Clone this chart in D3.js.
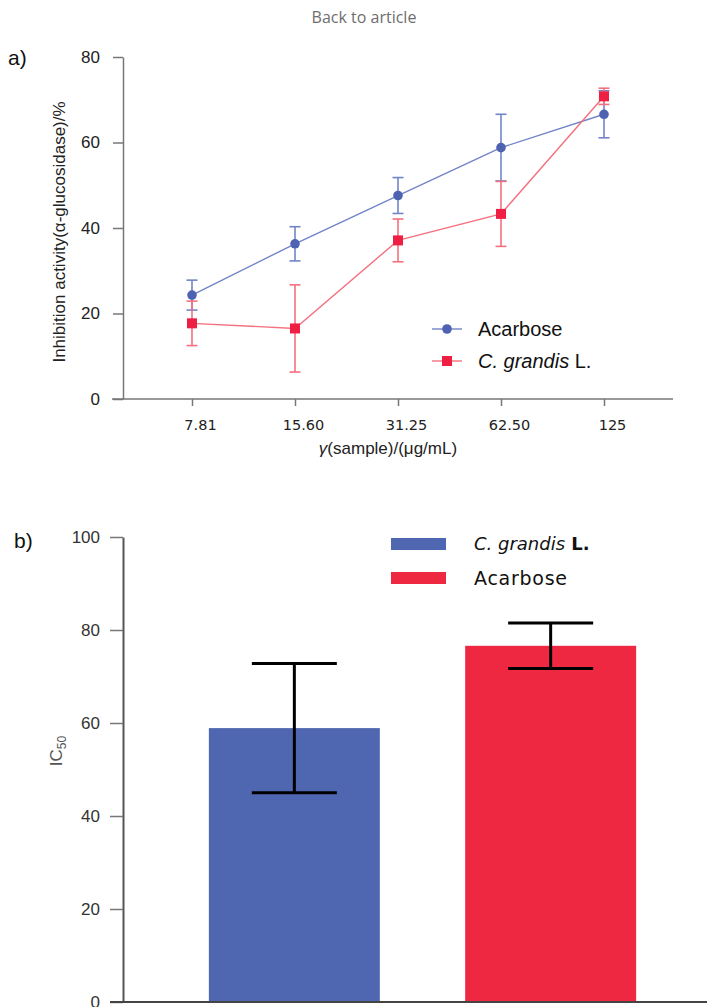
<!DOCTYPE html>
<html>
<head>
<meta charset="utf-8">
<script src="https://cdn.jsdelivr.net/npm/d3@7"></script>
<style>
  body { margin: 0; background: #fff; }
  svg { display: block; }
</style>
</head>
<body>
<div id="chart"></div>
<script>
// data for panel a (line chart)
var concentrations = ["7.81", "15.60", "31.25", "62.50", "125"];
var acarboseMean = [24.3, 36.3, 47.6, 58.8, 66.6];
var acarboseErr = [3.5, 4.0, 4.2, 7.8, 5.5];
var grandisMean = [17.7, 16.5, 37.1, 43.3, 70.8];
var grandisErr = [5.2, 10.2, 5.0, 7.6, 1.9];
var yTicksA = [0, 20, 40, 60, 80];

// data for panel b (bar chart)
var samples = ["C. grandis L.", "Acarbose"];
var ic50Mean = [58.9, 76.6];
var ic50Err = [13.9, 4.9];
var yTicksB = [0, 20, 40, 60, 80, 100];

var blue = "#4d63b2", blueLine = "#7184c8";
var red = "#ee1f43", redLine = "#f4707e";
var barBlue = "#4f67b0", barRed = "#ee2841";

var svg = d3.select("#chart")
  .append("svg")
  .attr("width", 707)
  .attr("height", 1007);

// header link text
svg.append("text")
  .attr("x", 364).attr("y", 23)
  .attr("text-anchor", "middle")
  .attr("font-family", "Open Sans")
  .attr("font-size", 16)
  .attr("fill", "#6e6e6e")
  .text("Back to article");

// ---------- panel a ----------
var gA = svg.append("g");

var xA = d3.scalePoint().domain(concentrations).range([192, 604]);
var yA = d3.scaleLinear().domain([0, 80]).range([399, 57]);

gA.append("text")
  .attr("x", 8).attr("y", 65)
  .attr("font-family", "Liberation Sans")
  .attr("font-size", 21)
  .attr("fill", "#111")
  .text("a)");

// y axis
var yAxisA = gA.append("g")
  .attr("transform", "translate(123,0)")
  .call(d3.axisLeft(yA).tickValues(yTicksA).tickSize(10).tickSizeOuter(0).tickPadding(13));
yAxisA.select(".domain").attr("stroke", "#777").attr("stroke-width", 1.5);
yAxisA.selectAll(".tick line").attr("stroke", "#777").attr("stroke-width", 1.5);
yAxisA.selectAll(".tick text")
  .attr("font-family", "Liberation Sans")
  .attr("font-size", 17)
  .attr("fill", "#222");

// x axis
gA.append("line")
  .attr("x1", 112).attr("x2", 673)
  .attr("y1", yA(0)).attr("y2", yA(0))
  .attr("stroke", "#777").attr("stroke-width", 1.5);
var xAxisA = gA.append("g")
  .attr("transform", "translate(0," + yA(0) + ")")
  .call(d3.axisBottom(xA).tickSize(7).tickSizeOuter(0).tickPadding(14));
xAxisA.select(".domain").remove();
xAxisA.selectAll(".tick line").attr("stroke", "#777").attr("stroke-width", 1.5);
xAxisA.selectAll(".tick text")
  .attr("dx", 8)
  .attr("font-family", "DejaVu Sans")
  .attr("font-size", 14.5)
  .attr("fill", "#222");

// axis titles
var xTitle = gA.append("text")
  .attr("x", 388).attr("y", 454)
  .attr("text-anchor", "middle")
  .attr("font-family", "Liberation Sans")
  .attr("font-size", 17)
  .attr("fill", "#222");
xTitle.append("tspan").attr("font-style", "italic").text("γ");
xTitle.append("tspan").text("(sample)/(μg/mL)");

gA.append("text")
  .attr("transform", "translate(65,232) rotate(-90)")
  .attr("text-anchor", "middle")
  .attr("font-family", "Liberation Sans")
  .attr("font-size", 17)
  .attr("fill", "#222")
  .text("Inhibition activity(α-glucosidase)/%");

// series
var seriesA = [
  { name: "Acarbose", mean: acarboseMean, err: acarboseErr, color: blue, line: blueLine, shape: "circle" },
  { name: "C. grandis", mean: grandisMean, err: grandisErr, color: red, line: redLine, shape: "square" }
];

var lineGen = d3.line()
  .x(function(d) { return xA(d.c); })
  .y(function(d) { return yA(d.v); });

seriesA.forEach(function(s) {
  var pts = concentrations.map(function(c, i) {
    return { c: c, v: s.mean[i], e: s.err[i] };
  });
  var g = gA.append("g");

  // error bars
  var eb = g.selectAll(".err").data(pts).enter().append("g").attr("class", "err")
    .attr("stroke", s.line).attr("stroke-width", 1.6);
  eb.append("line")
    .attr("x1", function(d) { return xA(d.c); })
    .attr("x2", function(d) { return xA(d.c); })
    .attr("y1", function(d) { return yA(d.v + d.e); })
    .attr("y2", function(d) { return yA(d.v - d.e); });
  eb.append("line")
    .attr("x1", function(d) { return xA(d.c) - 5.5; })
    .attr("x2", function(d) { return xA(d.c) + 5.5; })
    .attr("y1", function(d) { return yA(d.v + d.e); })
    .attr("y2", function(d) { return yA(d.v + d.e); });
  eb.append("line")
    .attr("x1", function(d) { return xA(d.c) - 5.5; })
    .attr("x2", function(d) { return xA(d.c) + 5.5; })
    .attr("y1", function(d) { return yA(d.v - d.e); })
    .attr("y2", function(d) { return yA(d.v - d.e); });

  g.append("path")
    .datum(pts)
    .attr("d", lineGen)
    .attr("fill", "none")
    .attr("stroke", s.line)
    .attr("stroke-width", 1.4);

  if (s.shape === "circle") {
    g.selectAll(".mk").data(pts).enter().append("circle")
      .attr("cx", function(d) { return xA(d.c); })
      .attr("cy", function(d) { return yA(d.v); })
      .attr("r", 4.8)
      .attr("fill", s.color);
  } else {
    g.selectAll(".mk").data(pts).enter().append("rect")
      .attr("x", function(d) { return xA(d.c) - 5; })
      .attr("y", function(d) { return yA(d.v) - 5; })
      .attr("width", 10).attr("height", 10)
      .attr("fill", s.color);
  }
});

// legend a
var legA = gA.append("g").attr("transform", "translate(432,329)");
legA.append("line").attr("x1", 0).attr("x2", 30).attr("stroke", blueLine).attr("stroke-width", 1.4);
legA.append("circle").attr("cx", 15).attr("r", 4.8).attr("fill", blue);
legA.append("text").attr("x", 46).attr("y", 7)
  .attr("font-family", "Liberation Sans").attr("font-size", 20).attr("fill", "#111")
  .text("Acarbose");
var legA2 = gA.append("g").attr("transform", "translate(432,361)");
legA2.append("line").attr("x1", 0).attr("x2", 30).attr("stroke", redLine).attr("stroke-width", 1.4);
legA2.append("rect").attr("x", 10).attr("y", -5).attr("width", 10).attr("height", 10).attr("fill", red);
var lt = legA2.append("text").attr("x", 46).attr("y", 7)
  .attr("font-family", "Liberation Sans").attr("font-size", 20).attr("fill", "#111");
lt.append("tspan").attr("font-style", "italic").text("C. grandis");
lt.append("tspan").text(" L.");

// ---------- panel b ----------
var gB = svg.append("g");

var xB = d3.scaleBand().domain(samples).range([123, 722]).paddingInner(0.333).paddingOuter(0.335);
var yB = d3.scaleLinear().domain([0, 100]).range([1002, 537]);

gB.append("text")
  .attr("x", 14).attr("y", 548)
  .attr("font-family", "Liberation Sans")
  .attr("font-size", 21)
  .attr("fill", "#111")
  .text("b)");

// bars
gB.selectAll(".bar").data(samples).enter().append("rect")
  .attr("class", "bar")
  .attr("x", function(d) { return xB(d); })
  .attr("width", xB.bandwidth())
  .attr("y", function(d, i) { return yB(ic50Mean[i]); })
  .attr("height", function(d, i) { return yB(0) - yB(ic50Mean[i]); })
  .attr("fill", function(d, i) { return i === 0 ? barBlue : barRed; });

// error bars
var ebB = gB.selectAll(".errb").data(samples).enter().append("g")
  .attr("stroke", "#000").attr("stroke-width", 3);
ebB.append("line")
  .attr("x1", function(d) { return xB(d) + xB.bandwidth() / 2; })
  .attr("x2", function(d) { return xB(d) + xB.bandwidth() / 2; })
  .attr("y1", function(d, i) { return yB(ic50Mean[i] + ic50Err[i]); })
  .attr("y2", function(d, i) { return yB(ic50Mean[i] - ic50Err[i]); });
[1, -1].forEach(function(sign) {
  ebB.append("line")
    .attr("x1", function(d) { return xB(d) + xB.bandwidth() / 2 - 42.5; })
    .attr("x2", function(d) { return xB(d) + xB.bandwidth() / 2 + 42.5; })
    .attr("y1", function(d, i) { return yB(ic50Mean[i] + sign * ic50Err[i]); })
    .attr("y2", function(d, i) { return yB(ic50Mean[i] + sign * ic50Err[i]); });
});

// axes
var yAxisB = gB.append("g")
  .attr("transform", "translate(123,0)")
  .call(d3.axisLeft(yB).tickValues(yTicksB).tickSize(13).tickSizeOuter(0).tickPadding(10));
yAxisB.select(".domain").attr("stroke", "#555").attr("stroke-width", 2);
yAxisB.selectAll(".tick line").attr("stroke", "#777").attr("stroke-width", 1.5);
yAxisB.selectAll(".tick text")
  .attr("font-family", "Liberation Sans")
  .attr("font-size", 17)
  .attr("fill", "#333");

gB.append("line")
  .attr("x1", 110).attr("x2", 707)
  .attr("y1", yB(0)).attr("y2", yB(0))
  .attr("stroke", "#444").attr("stroke-width", 2);

// y title IC50
var ic = gB.append("text")
  .attr("transform", "translate(62,751) rotate(-90)")
  .attr("text-anchor", "middle")
  .attr("font-family", "Liberation Sans")
  .attr("font-size", 17)
  .attr("fill", "#555");
ic.append("tspan").text("IC");
ic.append("tspan").attr("font-size", 12).attr("dy", 4).text("50");

// legend b
var legB = gB.append("g").attr("transform", "translate(391,538)");
legB.append("rect").attr("width", 55).attr("height", 12).attr("fill", barBlue);
var lb = legB.append("text").attr("x", 83).attr("y", 12)
  .attr("font-family", "DejaVu Sans").attr("font-size", 18).attr("fill", "#111");
lb.append("tspan").attr("font-style", "italic").text("C. grandis");
lb.append("tspan").attr("font-weight", "bold").text(" L.");
legB.append("rect").attr("y", 34).attr("width", 55).attr("height", 12).attr("fill", barRed);
legB.append("text").attr("x", 83).attr("y", 47)
  .attr("font-family", "DejaVu Sans").attr("font-size", 19).attr("fill", "#111")
  .attr("textLength", 93)
  .text("Acarbose");
</script>
</body>
</html>
